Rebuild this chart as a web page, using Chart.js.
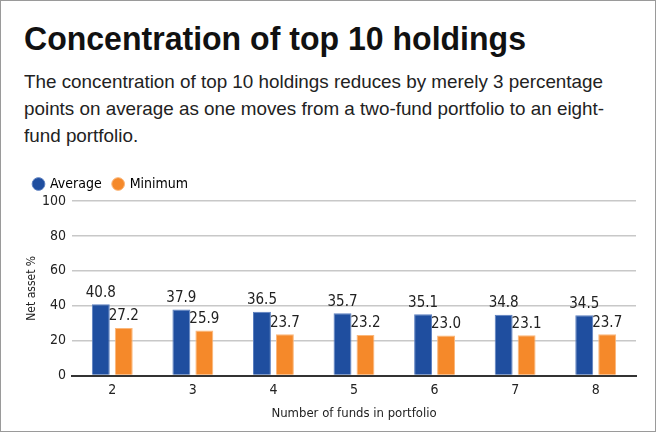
<!DOCTYPE html>
<html>
<head>
<meta charset="utf-8">
<script src="https://cdn.jsdelivr.net/npm/chart.js@4.4.1/dist/chart.umd.min.js"></script>
<style>
  html, body { margin: 0; padding: 0; background: #fff; }
  body { width: 660px; height: 434px; position: relative; overflow: hidden;
         font-family: "Liberation Sans", Arial, sans-serif; }
  #frame { position: absolute; left: 0; top: 0; width: 654px; height: 430px;
           border: 1.5px solid #9a9a9a; }
  .txt { position: absolute; left: 24px; white-space: nowrap; transform-origin: 0 0; }
  #title { top: 22px; font-size: 33px; font-weight: bold; color: #111; line-height: 33px; }
  #sub { top: 68px; font-size: 18.5px; color: #222; line-height: 27px; }
  #wrap { position: absolute; left: 0; top: 165px; width: 660px; height: 260px; }
</style>
</head>
<body>
<div id="frame"></div>
<div id="title" class="txt">Concentration of top 10 holdings</div>
<div id="sub" class="txt"><span id="line1">The concentration of top 10 holdings reduces by merely 3 percentage</span><br>points on average as one moves from a two-fund portfolio to an eight-<br>fund portfolio.</div>
<div id="wrap"><canvas id="myChart"></canvas></div>
<script>
const funds = ["2", "3", "4", "5", "6", "7", "8"];
const average = [40.8, 37.9, 36.5, 35.7, 35.1, 34.8, 34.5];
const minimum = [27.2, 25.9, 23.7, 23.2, 23.0, 23.1, 23.7];
const yTicks = [0, 20, 40, 60, 80, 100];

// squeeze the heading text to the condensed widths of the original
const squeeze = (el, measureEl, target) => {
  const w = measureEl.getBoundingClientRect().width;
  el.style.transform = 'scaleX(' + (target / w) + ')';
};
squeeze(document.getElementById('title'), document.getElementById('title'), 502);
squeeze(document.getElementById('sub'), document.getElementById('line1'), 579);

const FONT = '"DejaVu Sans Condensed", "Liberation Sans", sans-serif';

const barLabels = {
  id: 'barLabels',
  afterDatasetsDraw(chart) {
    const ctx = chart.ctx;
    ctx.save();
    ctx.font = '15px ' + FONT;
    ctx.fillStyle = '#222';
    ctx.textAlign = 'center';
    ctx.textBaseline = 'bottom';
    chart.data.datasets.forEach((ds, i) => {
      chart.getDatasetMeta(i).data.forEach((bar, j) => {
        ctx.fillText(ds.data[j].toFixed(1), bar.x, bar.y - 4);
      });
    });
    ctx.restore();
  }
};

const myChartRef = document.getElementById('myChart').getContext('2d');
new Chart(myChartRef, {
  type: 'bar',
  data: {
    labels: funds,
    datasets: [
      { label: 'Average', data: average, backgroundColor: '#1f4e9f', borderColor: '#5b7fc0',
        borderWidth: 1, barPercentage: 0.78, categoryPercentage: 0.57 },
      { label: 'Minimum', data: minimum, backgroundColor: '#f5892a', borderColor: '#fbb77a',
        borderWidth: 1, barPercentage: 0.78, categoryPercentage: 0.57 }
    ]
  },
  options: {
    responsive: true,
    maintainAspectRatio: false,
    animation: false,
    layout: { padding: { left: 22, right: 24, top: 0, bottom: 4 } },
    plugins: {
      legend: {
        position: 'top',
        align: 'start',
        labels: { usePointStyle: true, pointStyle: 'circle', boxWidth: 9, boxHeight: 9,
                  color: '#000', padding: 12, font: { family: FONT, size: 14 } }
      },
      tooltip: { enabled: false }
    },
    scales: {
      x: {
        grid: { display: false, drawTicks: false },
        border: { color: '#333', width: 2 },
        ticks: { color: '#222', font: { family: FONT, size: 14 }, padding: 6 },
        title: { display: true, text: 'Number of funds in portfolio', color: '#222',
                 font: { family: FONT, size: 13 }, padding: { top: 1, bottom: 0 } }
      },
      y: {
        min: 0, max: 100,
        afterBuildTicks(scale) { scale.ticks = yTicks.map(v => ({ value: v })); },
        afterFit(scale) { scale.width = 50; },
        grid: { color: '#c8c8c8', lineWidth: 1.5, drawTicks: false },
        border: { display: false },
        ticks: { color: '#222', font: { family: FONT, size: 14 }, padding: 6 },
        title: { display: true, text: 'Net asset %', color: '#222',
                 font: { family: FONT, size: 12 }, padding: { top: 3, bottom: 0 } }
      }
    }
  },
  plugins: [barLabels]
});
</script>
</body>
</html>
